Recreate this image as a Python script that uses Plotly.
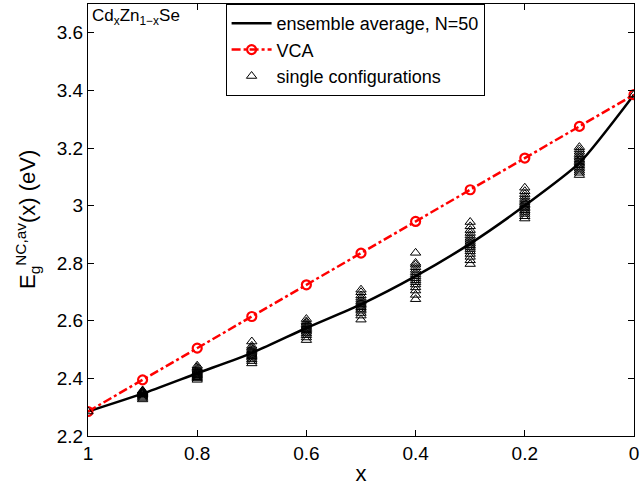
import plotly.graph_objects as go

# composition values
x_vals = [1.0, 0.9, 0.8, 0.7, 0.6, 0.5, 0.4, 0.3, 0.2, 0.1, 0.0]

# ensemble average (N=50)
ensemble = [2.285, 2.347, 2.418, 2.488, 2.575, 2.657, 2.755, 2.868, 3.000, 3.148, 3.385]

# virtual crystal approximation
vca = [2.285, 2.395, 2.505, 2.615, 2.725, 2.835, 2.945, 3.055, 3.165, 3.275, 3.385]

# single configurations (read per composition)
singles = {
    1.0: [2.285],
    0.9: [2.327, 2.332, 2.336, 2.340, 2.343, 2.345, 2.347, 2.348, 2.350, 2.352, 2.354, 2.356, 2.358],
    0.8: [2.395, 2.400, 2.404, 2.408, 2.411, 2.414, 2.417, 2.420, 2.423, 2.426, 2.430, 2.434, 2.439, 2.444],
    0.7: [2.452, 2.460, 2.466, 2.472, 2.477, 2.481, 2.485, 2.489, 2.493, 2.497, 2.502, 2.507, 2.513, 2.528],
    0.6: [2.533, 2.542, 2.550, 2.556, 2.562, 2.567, 2.571, 2.575, 2.579, 2.583, 2.588, 2.593, 2.598, 2.606],
    0.5: [2.604, 2.618, 2.627, 2.635, 2.641, 2.647, 2.652, 2.657, 2.662, 2.667, 2.673, 2.680, 2.688, 2.699, 2.708],
    0.4: [2.675, 2.690, 2.705, 2.716, 2.726, 2.734, 2.741, 2.748, 2.755, 2.762, 2.769, 2.777, 2.786, 2.795, 2.801, 2.836],
    0.3: [2.797, 2.810, 2.822, 2.832, 2.841, 2.849, 2.856, 2.862, 2.868, 2.874, 2.881, 2.888, 2.896, 2.905, 2.915, 2.928, 2.943],
    0.2: [2.955, 2.963, 2.971, 2.978, 2.984, 2.990, 2.995, 3.000, 3.005, 3.010, 3.016, 3.023, 3.031, 3.040, 3.050, 3.062],
    0.1: [3.106, 3.114, 3.121, 3.128, 3.134, 3.140, 3.145, 3.150, 3.155, 3.160, 3.166, 3.172, 3.179, 3.187, 3.195, 3.203],
    0.0: [3.385],
}

x_ticks = [1.0, 0.8, 0.6, 0.4, 0.2, 0.0]
x_ticktext = ["1", "0.8", "0.6", "0.4", "0.2", "0"]
y_ticks = [2.2, 2.4, 2.6, 2.8, 3.0, 3.2, 3.4, 3.6]
y_ticktext = ["2.2", "2.4", "2.6", "2.8", "3", "3.2", "3.4", "3.6"]

sx, sy = [], []
for k, vals in singles.items():
    for v in vals:
        sx.append(k)
        sy.append(v)

FONT = "Liberation Sans, Arial, Helvetica, sans-serif"

fig = go.Figure()
fig.add_trace(go.Scatter(
    x=x_vals, y=ensemble, mode="lines", name="ensemble average, N=50",
    line=dict(color="black", width=2.5, shape="spline", smoothing=0.6),
))
fig.add_trace(go.Scatter(
    x=x_vals, y=vca, mode="lines+markers", name="VCA",
    line=dict(color="red", width=2.5, dash="dashdot"),
    marker=dict(symbol="circle-open", size=9, color="red", line=dict(width=2.2, color="red")),
))
fig.add_trace(go.Scatter(
    x=sx, y=sy, mode="markers", name="single configurations",
    marker=dict(symbol="triangle-up-open", size=9, color="black", line=dict(width=1, color="black")),
))

axis_common = dict(
    showline=True, linecolor="black", linewidth=1, mirror="ticks",
    ticks="inside", ticklen=6, tickcolor="black", showgrid=False, zeroline=False,
    tickfont=dict(family=FONT, size=19, color="black"),
    ticklabeloverflow="allow",
)

fig.update_xaxes(
    range=[1, 0], tickvals=x_ticks, ticktext=x_ticktext,
    title=dict(text="x", font=dict(family=FONT, size=22, color="black"), standoff=2),
    **axis_common,
)
fig.update_yaxes(
    range=[2.2, 3.7], tickvals=y_ticks, ticktext=y_ticktext,
    **axis_common,
)

# y-axis title placed as rotated annotation
fig.add_annotation(
    x=0, y=0.5, xref="paper", yref="paper", xanchor="center", yanchor="middle",
    xshift=-61, textangle=-90,
    text="E<sub>g</sub><sup>NC,av</sup>(x) (eV)", showarrow=False,
    font=dict(family=FONT, size=22, color="black"),
)

fig.add_annotation(
    x=0, y=1, xref="paper", yref="paper", xanchor="left", yanchor="top",
    xshift=2, yshift=0,
    text="Cd<sub>x</sub>Zn<sub>1−x</sub>Se", showarrow=False,
    font=dict(family=FONT, size=17, color="black"),
)

fig.update_layout(
    width=642, height=491,
    margin=dict(l=88, r=3, t=3, b=55),
    plot_bgcolor="white", paper_bgcolor="white",
    font=dict(family=FONT, color="black"),
    legend=dict(
        x=0.252, y=1.0, xanchor="left", yanchor="top",
        bordercolor="black", borderwidth=1, bgcolor="white",
        font=dict(family=FONT, size=18, color="black"),
        tracegroupgap=0, itemwidth=40,
    ),
)

fig.write_html("out.html", config={"displayModeBar": False},
               post_script="document.body.style.margin='0';")
